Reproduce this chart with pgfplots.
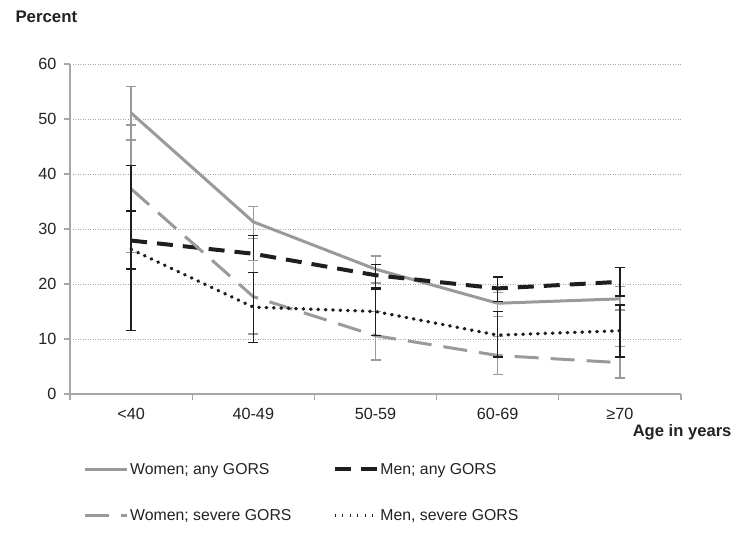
\documentclass[border=0pt]{standalone}
\usepackage{fontspec}
\setmainfont{Liberation Sans}
\usepackage{pgfplots}
\pgfplotsset{compat=1.18}
\definecolor{wgray}{HTML}{9A9A9A}
\definecolor{mblack}{HTML}{1E1E1E}
\definecolor{axgray}{HTML}{A8A8A8}
\definecolor{txt}{HTML}{222222}
\begin{document}
\begin{tikzpicture}[font=\fontsize{15.8bp}{19bp}\selectfont]
\path[use as bounding box] (0,0) rectangle (741bp,557bp);
\begin{axis}[
  at={(70bp,163bp)}, anchor=south west,
  scale only axis, width=611bp, height=330bp,
  xmin=-0.5, xmax=4.5, ymin=0, ymax=60,
  xtick={-0.5,0.5,1.5,2.5,3.5,4.5},
  x tick label as interval,
  xticklabels={<40,40-49,50-59,60-69,≥70,{}},
  ytick={0,10,...,60},
  axis x line*=bottom, axis y line*=left,
  axis line style={axgray, line width=1.3bp},
  tick align=outside, major tick length=6bp,
  tick style={axgray, line width=1.3bp},
  ymajorgrids,
  grid style={axgray, line width=1bp, dash pattern=on 1bp off 1.5bp},
  /pgf/number format/assume math mode=true,
  tick label style={font=\fontsize{16.2bp}{19bp}\selectfont, text=txt},
  xticklabel style={yshift=-5bp},
  yticklabel style={xshift=-4bp},
  legend columns=2,
  legend cell align=left,
  legend style={draw=none, fill=none, inner sep=0pt,
    at={(axis description cs:0.0221,-0.2985)}, anchor=west,
    nodes={inner sep=1.5bp, text=txt},
    /tikz/row sep=31bp,
    /tikz/every even column/.append style={column sep=40bp},
    font=\fontsize{15.8bp}{19bp}\selectfont},
  legend image code/.code={\draw[line cap=butt, #1] (0bp,0bp) -- (42bp,0bp);},
]
% Women; any GORS
\addplot[wgray, line width=3bp, mark=none,
  error bars/.cd, y dir=both, y explicit,
  error bar style={solid, line width=1.3bp, wgray},
  error mark options={solid, rotate=90, mark size=5bp, line width=1.3bp, wgray}]
coordinates {
  (0,51.1) += (0,4.8) -= (0,4.9)
  (1,31.3) += (0,2.8) -= (0,3.0)
  (2,22.7) += (0,2.4) -= (0,2.5)
  (3,16.5) += (0,1.9) -= (0,2.4)
  (4,17.3) += (0,2.2) -= (0,2.0)
};
\addlegendentry{Women; any GORS}
% Men; any GORS
\addplot[mblack, line width=4bp, dash pattern=on 16bp off 10bp, mark=none,
  error bars/.cd, y dir=both, y explicit,
  error bar style={solid, line width=1.4bp, mblack},
  error mark options={solid, rotate=90, mark size=5bp, line width=1.4bp, mblack}]
coordinates {
  (0,27.9) += (0,5.4) -= (0,5.2)
  (1,25.5) += (0,3.3) -= (0,3.4)
  (2,21.6) += (0,1.9) -= (0,2.3)
  (3,19.2) += (0,2.1) -= (0,2.4)
  (4,20.4) += (0,2.6) -= (0,2.6)
};
\addlegendentry{Men; any GORS}
% Women; severe GORS
\addplot[wgray, line width=3bp, dash pattern=on 24bp off 12bp, mark=none,
  error bars/.cd, y dir=both, y explicit,
  error bar style={solid, line width=1.3bp, wgray},
  error mark options={solid, rotate=90, mark size=5bp, line width=1.3bp, wgray}]
coordinates {
  (0,37.3) += (0,11.6) -= (0,11.6)
  (1,17.7) += (0,6.6) -= (0,6.8)
  (2,10.6) += (0,4.4) -= (0,4.4)
  (3,7.0) += (0,3.5) -= (0,3.5)
  (4,5.7) += (0,3.0) -= (0,2.8)
};
\addlegendentry{Women; severe GORS}
% Men, severe GORS
\addplot[mblack, line width=3.4bp, line cap=round, dash pattern=on 0.6bp off 6.8bp, mark=none,
  error bars/.cd, y dir=both, y explicit,
  error bar style={solid, line cap=butt, line width=1.4bp, mblack},
  error mark options={solid, line cap=butt, rotate=90, mark size=5bp, line width=1.4bp, mblack}]
coordinates {
  (0,26.3) += (0,15.2) -= (0,14.8)
  (1,15.8) += (0,6.3) -= (0,6.4)
  (2,15.0) += (0,4.0) -= (0,4.4)
  (3,10.7) += (0,4.3) -= (0,4.0)
  (4,11.5) += (0,4.7) -= (0,4.8)
};
\addlegendentry{Men, severe GORS}
\end{axis}
\node[anchor=base west, font=\fontsize{16.8bp}{19bp}\selectfont\bfseries, text=txt] at (12bp,534bp) {Percent};
\node[anchor=base east, font=\fontsize{16.6bp}{19bp}\selectfont\bfseries, text=txt] at (735bp,120bp) {Age in years};
\end{tikzpicture}
\end{document}
